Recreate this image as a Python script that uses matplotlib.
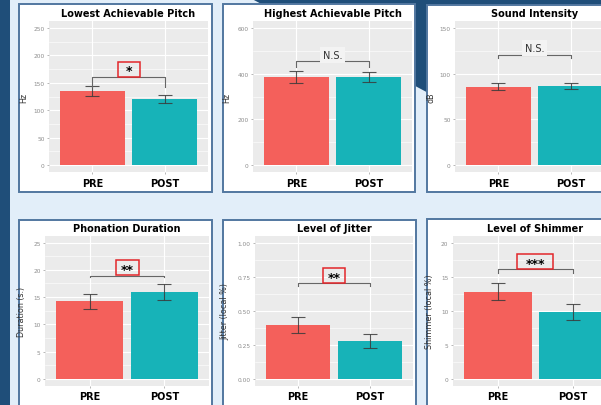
import matplotlib
matplotlib.use('Agg')
import matplotlib.pyplot as plt
from matplotlib.patches import Rectangle, Polygon
import numpy as np

# ---------------- data ----------------
groups = ['PRE', 'POST']
titles = ['Lowest Achievable Pitch', 'Highest Achievable Pitch', 'Sound Intensity',
          'Phonation Duration', 'Level of Jitter', 'Level of Shimmer']
ylabels = ['Hz', 'Hz', 'dB', 'Duration (s.)', 'Jitter (local %)', 'Shimmer (local %)']
means_pre = [135, 386, 85.8, 14.2, 0.397, 12.8]
means_post = [121, 386, 86.3, 16.0, 0.280, 9.85]
err_pre = [9.0, 25, 3.7, 1.3, 0.058, 1.3]
err_post = [7.3, 23, 3.5, 1.45, 0.050, 1.15]
ytick_max = [250, 600, 150, 25, 1.0, 20]
ytick_step = [50, 200, 50, 5, 0.25, 5]
ytick_fmt = ['{:.0f}', '{:.0f}', '{:.0f}', '{:.0f}', '{:.2f}', '{:.0f}']
sig_labels = ['*', 'N.S.', 'N.S.', '**', '**', '***']
bracket_y = [161, 454, 120.7, 18.9, 0.700, 16.1]
bracket_tip = [143, 427, 116.7, 18.6, 0.683, 15.5]
label_y = [175, 483, 127.7, 20.4, 0.757, 17.2]

# ---------------- layout (pixels) ----------------
W, H = 601, 406
axes_px = [(49, 22, 208, 173), (253, 22, 412, 173), (455, 22, 614, 173),
           (45, 236.7, 209, 386.7), (255, 236.7, 413, 386.7), (452.7, 236.7, 618, 386.7)]
panels_px = [(19, 5, 212, 193), (223, 5, 415, 193), (427, 6, 640, 193),
             (19, 221, 212, 440), (223, 221, 416, 440), (427, 220, 640, 440)]
ylabel_x = [28, 231, 435, 26, 229, 434]
box_px = [(22, 15), None, None, (23, 14.5), (22, 15), (36, 15)]

C_PRE = '#F4605B'
C_POST = '#17B3B8'
LIGHT = '#E2EEF9'
DARK = '#1F4E79'
BORDER = '#5277A0'
RED = '#E3262B'

fig = plt.figure(figsize=(W / 100, H / 100), dpi=100)
fig.patch.set_facecolor(LIGHT)


def fx(x):
    return x / W


def fy(y):
    return 1 - y / H


# decorative background
fig.add_artist(Rectangle((0, 0), fx(10), 1, transform=fig.transFigure,
                         facecolor=DARK, edgecolor='none', zorder=-3))
fig.add_artist(Polygon([(fx(252), fy(0)), (fx(601), fy(0)), (fx(601), fy(186))],
                       closed=True, transform=fig.transFigure,
                       facecolor=DARK, edgecolor='none', zorder=-3))
for (x0, y0, x1, y1) in panels_px:
    fig.add_artist(Rectangle((fx(x0), fy(y1)), fx(x1) - fx(x0), fy(y0) - fy(y1),
                             transform=fig.transFigure, facecolor='white',
                             edgecolor=BORDER, linewidth=1.4, zorder=-2))

for i in range(6):
    x0, y0, x1, y1 = axes_px[i]
    ax = fig.add_axes([fx(x0), fy(y1), fx(x1) - fx(x0), fy(y0) - fy(y1)])
    ax.set_facecolor('#EBEBEB')
    for s in ax.spines.values():
        s.set_visible(False)
    tmax = ytick_max[i]
    step = ytick_step[i]
    ax.set_ylim(-0.05 * tmax, 1.05 * tmax)
    ax.set_xlim(0.4, 2.6)
    yt = np.arange(0, tmax + step / 2, step)
    ax.set_yticks(yt)
    ax.set_yticklabels([ytick_fmt[i].format(v) for v in yt])
    ax.set_yticks(yt[:-1] + step / 2, minor=True)
    ax.set_xticks([1, 2])
    ax.set_xticklabels(groups)
    ax.grid(which='major', color='white', linewidth=0.8)
    ax.grid(which='minor', axis='y', color='white', linewidth=0.4)
    ax.set_axisbelow(True)
    ax.tick_params(axis='y', which='major', labelsize=4.2, labelcolor='#8C8C8C',
                   color='#9A9A9A', length=1.6, width=0.5, pad=1.5)
    ax.tick_params(axis='y', which='minor', length=0)
    ax.tick_params(axis='x', labelsize=7, labelcolor='black', color='#9A9A9A',
                   length=1.6, width=0.5, pad=2.5)
    for lbl in ax.get_xticklabels():
        lbl.set_fontweight('bold')

    xs = [1, 2]
    ax.bar(xs, [means_pre[i], means_post[i]], width=0.9, color=[C_PRE, C_POST],
           edgecolor='none', zorder=2)
    ax.errorbar(xs, [means_pre[i], means_post[i]], yerr=[err_pre[i], err_post[i]],
                fmt='none', ecolor='#3A3A3A', elinewidth=0.8, capsize=5,
                capthick=0.8, zorder=3, alpha=0.85)
    ax.plot([1, 1, 2, 2], [bracket_tip[i], bracket_y[i], bracket_y[i], bracket_tip[i]],
            color='#666666', linewidth=0.8, zorder=3)

    ax.set_title(titles[i], fontsize=7, fontweight='bold', pad=3.5)
    ax.set_ylabel(ylabels[i], fontsize=5.8, color='#333333')
    ax.yaxis.set_label_coords((ylabel_x[i] - x0) / (x1 - x0), 0.5)

    if box_px[i] is None:
        ax.text(1.5, label_y[i], sig_labels[i], ha='center', va='center',
                fontsize=7, color='#333333', zorder=4,
                bbox=dict(boxstyle='square,pad=0.3', facecolor='#F3F3F3',
                          edgecolor='none'))
    else:
        bw, bh = box_px[i]
        xu = 2.2 / (x1 - x0)
        yu = 1.1 * tmax / (y1 - y0)
        ax.add_patch(Rectangle((1.5 - bw * xu / 2, label_y[i] - bh * yu / 2),
                               bw * xu, bh * yu, facecolor='none',
                               edgecolor=RED, linewidth=1.1, zorder=4))
        ax.text(1.5, label_y[i] - bh * yu * 0.12, sig_labels[i], ha='center',
                va='center', fontsize=9, fontweight='bold', color='black', zorder=5)

fig.savefig('out.png', dpi=100)
